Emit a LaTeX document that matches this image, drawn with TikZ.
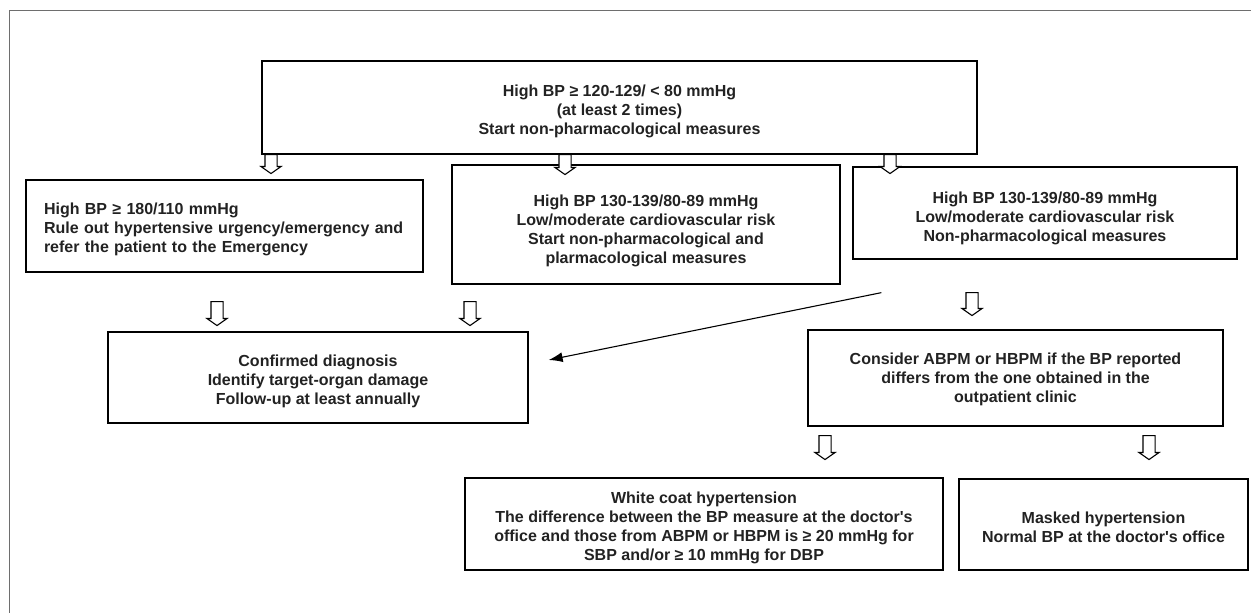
\documentclass[tikz,border=0pt]{standalone}
\usepackage{fontspec}
\setmainfont{Liberation Sans}
\usetikzlibrary{shapes.arrows,arrows.meta,positioning,calc}
\definecolor{txtgray}{HTML}{222222}
\definecolor{framegray}{HTML}{6E6E6E}
\newcommand{\toppad}[1][19pt]{\rule{0pt}{#1}}
\tikzset{
	box/.style={
		draw, rectangle, line width=1.3pt, inner sep=0pt,
		align=center, text=txtgray,
		font=\fontsize{16}{19}\selectfont\bfseries
	},
	hollow/.style={
		draw, fill=white, single arrow, shape border rotate=270,
		minimum width=19pt, single arrow head extend=4pt,
		single arrow tip angle=110, inner sep=5.5pt, line width=1.1pt
	},
	slim_arrow/.style={-{Latex[length=14pt,width=10pt]}, line width=1.1pt}
}
\begin{document}
\begin{tikzpicture}[x=1pt,y=-1pt]
				\useasboundingbox (0,0) rectangle (1251,613);
				\draw[framegray, line width=0.9pt] (1251,10) -- (9.5,10) -- (9.5,613);
				\node[box, minimum width=715pt, minimum height=93pt] (start) at (619.5,107.5)
					{\toppad High BP ≥ 120-129/ < 80 mmHg\\(at least 2 times)\\Start non-pharmacological measures};
				\node[box, align=left, text width=361pt, inner xsep=18pt, minimum height=92pt] (severe) at (224.5,226)
					{\toppad High BP ≥ 180/110 mmHg\\Rule out hypertensive urgency/emergency and\\refer the patient to the Emergency};
				\node[box, minimum width=388pt, minimum height=119pt] (mid) at (646,224.5)
					{\toppad[25pt]High BP 130-139/80-89 mmHg\\Low/moderate cardiovascular risk\\Start non-pharmacological and\\plarmacological measures};
				\node[box, minimum width=384pt, minimum height=92pt] (low) at (1045,213)
					{\toppad[22pt]High BP 130-139/80-89 mmHg\\Low/moderate cardiovascular risk\\Non-pharmacological measures};
				\node[box, minimum width=420pt, minimum height=91pt] (conf) at (318,377.5)
					{\toppad Confirmed diagnosis\\Identify target-organ damage\\Follow-up at least annually};
				\node[box, minimum width=415pt, minimum height=96pt] (abpm) at (1015.5,378)
					{\toppad[15pt]Consider ABPM or HBPM if the BP reported\\differs from the one obtained in the\\outpatient clinic};
				\node[box, minimum width=478pt, minimum height=92pt] (white) at (704,524)
					{\toppad White coat hypertension\\The difference between the BP measure at the doctor\textquotesingle s\\office and those from ABPM or HBPM is ≥ 20 mmHg for\\SBP and/or ≥ 10 mmHg for DBP};
				\node[box, minimum width=289pt, minimum height=91pt] (masked) at (1103.5,524.5)
					{\toppad[17pt]Masked hypertension\\Normal BP at the doctor\textquotesingle s office};
				% hollow arrows
				\node[hollow, minimum height=19pt, anchor=tail] (s1) at (271,154) {};
				\node[hollow, minimum height=20pt, anchor=tail] (s2) at (565,154) {};
				\node[hollow, minimum height=19pt, anchor=tail] (s3) at (890,154) {};
				\node[hollow, minimum height=24pt, anchor=tail] (c1) at (217,301) {};
				\node[hollow, minimum height=24pt, anchor=tail] (c2) at (470,301) {};
				\node[hollow, minimum height=23pt, anchor=tail] (l1) at (972,292) {};
				\node[hollow, minimum height=24pt, anchor=tail] (w1) at (825,435) {};
				\node[hollow, minimum height=24pt, anchor=tail] (m1) at (1149,435) {};
				% diagonal link
				\coordinate (dstart) at ([xshift=29pt,yshift=-33pt]low.south west);
				\coordinate (dend) at ([xshift=20pt,yshift=17.5pt]conf.east);
				\draw[slim_arrow] (dstart) -- (dend);
\end{tikzpicture}
\end{document}
